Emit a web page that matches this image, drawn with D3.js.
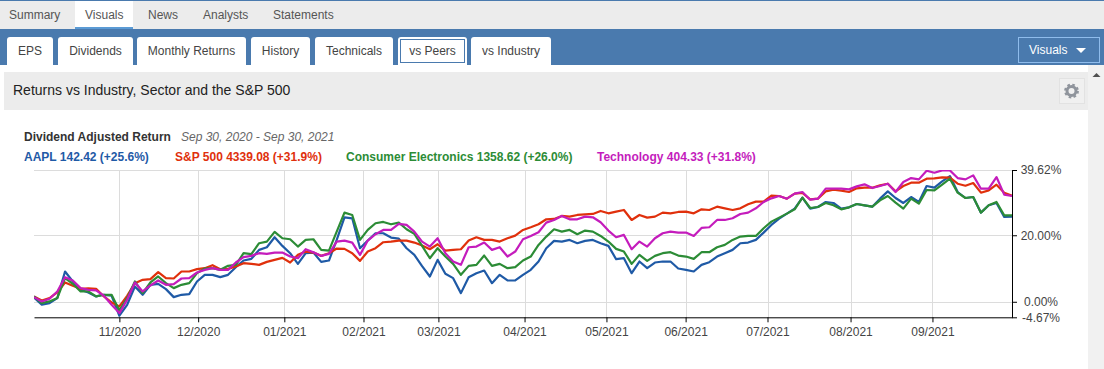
<!DOCTYPE html>
<html>
<head>
<meta charset="utf-8">
<title>Returns vs Industry, Sector and the S&amp;P 500</title>
<script src="https://cdn.jsdelivr.net/npm/d3@7"></script>
<style>
    html, body { margin: 0; padding: 0; background: #fff; overflow: hidden; }
    svg { display: block; font-family: "Liberation Sans", Arial, sans-serif; }
</style>
</head>
<body>
<div id="chart"></div>
<script>
/* global d3 */

// sampled every second trading day, Sep 30 2020 - Sep 30 2021
var tradingDays = d3.range(0, 253, 2);

var aaplReturns = [
    1.3, -0.9, -0.4, 1.1, 9.1, 6.1, 3.6, 2.8, 1.6, 2.1,
    1.8, -4.2, -0.9, 4.6, 2.1, 5.1, 5.4, 3.8, 1.4, 2.1,
    2.3, 6.1, 8.1, 8.1, 7.4, 8.1, 10.4, 12.4, 12.9, 15.6,
    16.4, 19.4, 16.8, 14.6, 11.4, 14.6, 14.8, 12, 12.4, 18.6,
    25.4, 25.1, 16.1, 18.4, 20.6, 20.6, 19.3, 19, 16.1, 14.1,
    10.7, 7.6, 12.6, 8.4, 7.1, 2.6, 7.4, 8.6, 9.4, 5.6,
    8.1, 6.4, 6.4, 8.1, 9.6, 12.1, 16.1, 18.3, 18.1, 18.6,
    17.6, 18.3, 18.6, 17.6, 16.8, 12.8, 13.1, 8.6, 12.1, 10.1,
    11.8, 12.1, 12.1, 10, 9.6, 9.1, 11.1, 11.9, 13.6, 14.6,
    15.6, 17.6, 17.8, 18.6, 20.8, 23.1, 25, 26.5, 28, 31.3,
    28, 28.5, 30, 29.7, 28, 28.4, 29.4, 29, 28.6, 31,
    33.2, 31.2, 29.7, 31.5, 30, 34.8, 34.3, 36.2, 37.8, 33,
    31.2, 31.5, 26.8, 29, 29.7, 25.5, 25.6
];
var sp500Returns = [
    1.6, 0.4, 1.1, 2.8, 5.8, 4.8, 3.9, 4, 3.9, 1.6,
    -0.2, -1.4, 1.8, 5.6, 6.6, 6.8, 8.9, 7.1, 7, 9.1,
    9.1, 9.8, 10.1, 11, 9.8, 9.9, 10.6, 11.6, 11.4, 11.1,
    12, 12.6, 13.2, 11.8, 14.1, 15.1, 14.8, 13.8, 14.6, 16,
    15.9, 14.6, 12.3, 15.1, 16.1, 17.9, 18.1, 18.4, 18.4, 17.8,
    16.9, 15.8, 17.3, 15.4, 15.6, 15.8, 18.4, 19.4, 18.6, 18.6,
    18.1, 19.1, 19.9, 21.6, 22.4, 23.3, 24.8, 24.9, 25.8, 25.6,
    26.1, 26.3, 26.4, 27.3, 26.6, 27.1, 27.6, 24.6, 26.1, 25.3,
    25.6, 26.8, 26.6, 27, 27.1, 26.6, 27.8, 27.6, 28.6, 28.1,
    27.6, 28.1, 29.3, 30.1, 30.1, 31.9, 31.8, 31, 32.5, 32.7,
    30.8, 31, 33.2, 33.7, 33.4, 33, 34.1, 34.3, 34.3, 35,
    35.5, 33.2, 34.8, 35.8, 35.8, 37, 37.1, 37.4, 37.3, 35.5,
    34.9, 35.7, 32.8, 33.5, 35.2, 32.8, 31.9
];
var electronicsReturns = [
    1.6, -0.4, 0.1, 1.1, 7.1, 5.4, 3.1, 3.1, 1.6, 2.1,
    2.1, -2.6, 1.1, 6.1, 2.6, 5.8, 7.6, 5.6, 4.1, 5.1,
    5.6, 8.6, 10, 10.1, 9.6, 10.8, 11.1, 14.6, 14.3, 17.6,
    18.1, 21, 19.1, 18.8, 16.6, 18.6, 18.8, 15.6, 15.4, 21.1,
    26.8, 26.1, 18.6, 21.6, 23.6, 24, 23.3, 23.8, 21.8, 20.4,
    16.8, 13.1, 16.1, 13.6, 11.4, 8.1, 10.8, 11.1, 13.9, 10.8,
    11.4, 10.1, 10.4, 12.4, 13.6, 17.1, 19.6, 21.8, 21.1, 21.6,
    20.3, 21.4, 21.1, 19.8, 18.1, 15.9, 15.1, 11.4, 14.1, 12.3,
    13.8, 14.6, 14.9, 13.9, 13.6, 12.9, 14.9, 14.9, 16.4, 17.1,
    18.6, 19.6, 19.8, 19.8, 22.1, 24.1, 25.3, 26.5, 27.8, 31.3,
    28.2, 28.5, 29.7, 29, 27.8, 28.4, 29.4, 29, 28.6, 30.5,
    31.8, 29.8, 28, 31, 29.5, 33.6, 33.5, 35.2, 37, 32.8,
    31.2, 31.5, 26.8, 29, 30, 26, 26
];
var technologyReturns = [
    1.4, 0.1, 0.9, 3.1, 7.4, 6.4, 4.1, 3.6, 3.4, 1.8,
    -0.9, -3.4, 0.6, 5.8, 3.1, 4.9, 6.4, 5.1, 5.3, 7,
    7.1, 8.8, 9.6, 10.1, 9.6, 9.6, 11.8, 13.4, 13.8, 14.6,
    14.4, 14.8, 14.8, 13.6, 13.1, 15.8, 14.9, 13.8, 14.4, 18.1,
    18.4, 17.8, 14.1, 18.4, 20.3, 21.6, 21.6, 23.4, 23.1, 21.1,
    18.1, 16.6, 19.1, 14.6, 12.1, 11.1, 16.4, 16.6, 17.8, 15.6,
    16.4, 13.6, 15.1, 18.8, 19.8, 20.9, 23.8, 24.6, 25.8, 24.8,
    24.8, 25.6, 25.4, 23.9, 21.4, 19.4, 20.1, 15.8, 18.1, 16.6,
    19.1, 20.6, 21.1, 20.8, 20.8, 19.8, 22.2, 22.4, 24.6, 24.6,
    25.1, 26.4, 26.8, 28.1, 30, 31.1, 31.8, 31, 32.5, 33,
    30.7, 31, 34, 34, 34, 33.8, 34.7, 35.3, 34.2, 34.8,
    35.5, 33, 36, 37.2, 36.8, 39.4, 38.8, 39.5, 39.5, 37.2,
    36.8, 38, 34, 34, 37.5, 32.2, 31.8
];

var monthDays = [22, 42.3, 64.5, 84.9, 104.2, 126.4, 147.5, 167.9, 189, 210.4, 231.5];
var monthLabels = ["11/2020", "12/2020", "01/2021", "02/2021", "03/2021", "04/2021",
    "05/2021", "06/2021", "07/2021", "08/2021", "09/2021"];
var yTickValues = [39.62, 20, 0, -4.67];
var yTickLabels = ["39.62%", "20.00%", "0.00%", "-4.67%"];

var seriesNames = ["AAPL 142.42 (+25.6%)", "S&P 500 4339.08 (+31.9%)",
    "Consumer Electronics 1358.62 (+26.0%)", "Technology 404.33 (+31.8%)"];
var seriesColors = ["#1f5aa6", "#e0300c", "#2c8c36", "#c41cbc"];
var seriesValues = [aaplReturns, sp500Returns, electronicsReturns, technologyReturns];
var legendX = [24, 175, 346, 597];

var topTabs = ["Summary", "Visuals", "News", "Analysts", "Statements"];
var topTabX = [9, 85, 148, 203, 273];
var subTabs = ["EPS", "Dividends", "Monthly Returns", "History", "Technicals", "vs Peers", "vs Industry"];
var subTabLeft = [7, 58, 137, 251, 315, 398, 471];
var subTabRight = [53, 133, 246, 310, 393, 467, 551];

var barBlue = "#4a7aae";
var width = 1104, height = 369;

var svg = d3.select("#chart").append("svg")
        .attr("width", width)
        .attr("height", height);

/* Page furniture */
svg.append("rect").attr("x", 1088).attr("y", 65).attr("width", 16).attr("height", 304).attr("fill", "#f1f1f1");
svg.append("path").attr("d", "M1092.5,77 L1096.5,73 L1100.5,77 Z").attr("fill", "#505050");

svg.append("rect").attr("width", width).attr("height", 29).attr("fill", "#ececec");
svg.append("rect").attr("width", width).attr("height", 1).attr("fill", barBlue);
svg.append("rect").attr("x", 75).attr("y", 1).attr("width", 58).attr("height", 28).attr("fill", "#fff");
svg.append("rect").attr("x", 75).attr("y", 27).attr("width", 58).attr("height", 2).attr("fill", "#5b9bd5");

svg.selectAll("text.topTab")
        .data(topTabs)
        .enter().append("text")
        .attr("class", "topTab")
        .attr("x", function (d, i) {
            return topTabX[i];
        })
        .attr("y", 19)
        .attr("font-size", 12)
        .attr("fill", "#555")
        .text(function (d) {
            return d;
        });

svg.append("rect").attr("y", 29).attr("width", width).attr("height", 36).attr("fill", barBlue);

subTabs.forEach(function (label, i) {
    var x0 = subTabLeft[i], x1 = subTabRight[i];
    svg.append("path")
            .attr("d", "M" + x0 + ",65 V40 Q" + x0 + ",37 " + (x0 + 3) + ",37 H" + (x1 - 3) + " Q" + x1 + ",37 " + x1 + ",40 V65 Z")
            .attr("fill", "#fff");
    if (label === "vs Peers") {
        svg.append("rect")
                .attr("x", x0 + 2.5).attr("y", 39.5)
                .attr("width", x1 - x0 - 5).attr("height", 23)
                .attr("fill", "none")
                .attr("stroke", barBlue);
    }
    svg.append("text")
            .attr("x", (x0 + x1) / 2)
            .attr("y", 55)
            .attr("text-anchor", "middle")
            .attr("font-size", 12)
            .attr("fill", "#444")
            .text(label);
});

svg.append("rect")
        .attr("x", 1018.5).attr("y", 37.5)
        .attr("width", 81).attr("height", 25)
        .attr("fill", "none")
        .attr("stroke", "#8fbcec");
svg.append("text").attr("x", 1029).attr("y", 54).attr("font-size", 12).attr("fill", "#fff").text("Visuals");
svg.append("path").attr("d", "M1076,48 H1086 L1081,53 Z").attr("fill", "#fff");

svg.append("rect").attr("x", 4).attr("y", 72).attr("width", 1084).attr("height", 38).attr("fill", "#ececec");
svg.append("text").attr("x", 13).attr("y", 95).attr("font-size", 14).attr("fill", "#222")
        .text("Returns vs Industry, Sector and the S&P 500");

// gear button
svg.append("rect").attr("x", 1059.5).attr("y", 78.5).attr("width", 25).attr("height", 25)
        .attr("fill", "#f0f0f0").attr("stroke", "#e2e2e2");
svg.append("circle").attr("cx", 1071.5).attr("cy", 91).attr("r", 4.5)
        .attr("fill", "none").attr("stroke", "#8f949c").attr("stroke-width", 3);
svg.append("circle").attr("cx", 1071.5).attr("cy", 91).attr("r", 6.4)
        .attr("fill", "none").attr("stroke", "#8f949c").attr("stroke-width", 2)
        .attr("stroke-dasharray", "2.6 2.43");

/* Chart heading and legend */
svg.append("text").attr("x", 24).attr("y", 141).attr("font-size", 12).attr("font-weight", "bold").attr("fill", "#333")
        .text("Dividend Adjusted Return");
svg.append("text").attr("x", 181).attr("y", 141).attr("font-size", 12).attr("font-style", "italic").attr("fill", "#666")
        .text("Sep 30, 2020 - Sep 30, 2021");

svg.selectAll("text.legend")
        .data(seriesNames)
        .enter().append("text")
        .attr("class", "legend")
        .attr("x", function (d, i) {
            return legendX[i];
        })
        .attr("y", 161)
        .attr("font-size", 12)
        .attr("font-weight", "bold")
        .attr("fill", function (d, i) {
            return seriesColors[i];
        })
        .text(function (d) {
            return d;
        });

/* Scales */
var margins = {top: 170, right: 92, bottom: 51.7, left: 34};
var xScale = d3.scaleLinear()
        .domain([0, 252])
        .range([margins.left, width - margins.right]);
var yScale = d3.scaleLinear()
        .domain([-4.67, 39.62])
        .range([height - margins.bottom, margins.top]);

/* Grid lines */
var grid = svg.append("g").attr("stroke", "#dcdcdc").attr("stroke-width", 1);
grid.selectAll("line.v")
        .data(monthDays)
        .enter().append("line")
        .attr("class", "v")
        .attr("x1", function (d) {
            return Math.round(xScale(d)) + 0.5;
        })
        .attr("x2", function (d) {
            return Math.round(xScale(d)) + 0.5;
        })
        .attr("y1", yScale.range()[1])
        .attr("y2", yScale.range()[0]);
grid.selectAll("line.h")
        .data(yTickValues.slice(0, 3))
        .enter().append("line")
        .attr("class", "h")
        .attr("x1", xScale.range()[0])
        .attr("x2", xScale.range()[1])
        .attr("y1", function (d) {
            return Math.round(yScale(d)) + 0.5;
        })
        .attr("y2", function (d) {
            return Math.round(yScale(d)) + 0.5;
        });

/* Lines */
svg.append("clipPath").attr("id", "plotClip").append("rect")
        .attr("x", xScale.range()[0])
        .attr("y", yScale.range()[1])
        .attr("width", xScale.range()[1] - xScale.range()[0])
        .attr("height", yScale.range()[0] - yScale.range()[1]);

var line = d3.line()
        .x(function (d, i) {
            return xScale(tradingDays[i]);
        })
        .y(function (d) {
            return yScale(d);
        });

svg.append("g").attr("clip-path", "url(#plotClip)")
        .selectAll("path")
        .data(seriesValues)
        .enter().append("path")
        .attr("d", line)
        .attr("fill", "none")
        .attr("stroke-width", 2.2)
        .attr("stroke-linejoin", "round")
        .attr("stroke", function (d, i) {
            return seriesColors[i];
        });

/* Axes */
var xAxis = d3.axisBottom(xScale)
        .tickValues(monthDays)
        .tickFormat(function (d, i) {
            return monthLabels[i];
        })
        .tickSize(5)
        .tickSizeOuter(0)
        .tickPadding(5);
var xAxisGroup = svg.append("g")
        .attr("transform", "translate(0," + yScale.range()[0] + ")")
        .call(xAxis);

var yAxis = d3.axisRight(yScale)
        .tickValues(yTickValues)
        .tickFormat(function (d, i) {
            return yTickLabels[i];
        })
        .tickSize(5)
        .tickSizeOuter(0);
var yAxisGroup = svg.append("g")
        .attr("transform", "translate(" + xScale.range()[1] + ",0)")
        .call(yAxis);
yAxisGroup.selectAll("text")
        .attr("x", 29)
        .attr("text-anchor", "middle");

[xAxisGroup, yAxisGroup].forEach(function (axisGroup) {
    axisGroup.attr("font-family", null).attr("font-size", 12);
    axisGroup.selectAll("text").attr("fill", "#444");
    axisGroup.selectAll("line, path").attr("stroke", "#000");
});
</script>
</body>
</html>
